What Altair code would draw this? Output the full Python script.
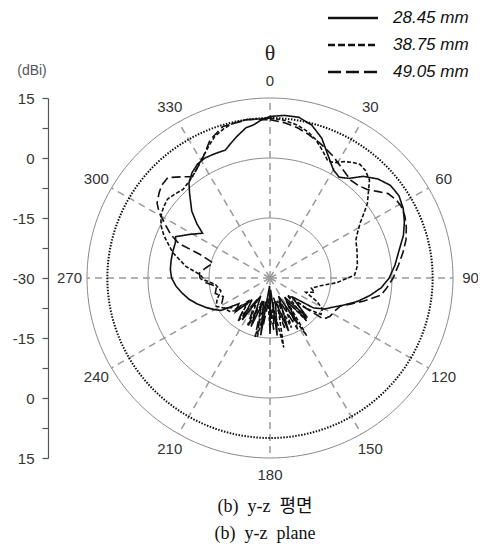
import altair as alt
import pandas as pd
import numpy as np

SERIES = ["28.45 mm", "38.75 mm", "49.05 mm"]

# 28.45 mm (solid)
A1 = [0, 5, 10, 15, 20, 25, 30, 34, 38, 42, 47, 52, 57, 62, 67, 72, 78, 84, 90, 95,
      100, 105, 110, 115, 120, 125,
      131, 137, 143, 149, 155, 161, 167, 173, 177, 180, 183, 189, 195, 201, 207, 213, 219, 225, 230,
      236, 240, 245, 250, 255, 260, 265, 270, 275, 280, 285, 291, 294, 299, 304, 307, 311, 317, 320, 324,
      328, 332, 337, 341, 344, 347, 351, 354, 357, 360]
D1 = [10.4, 10.8, 10.8, 9.6, 7.2, 3.8, 1.2, 0.4, 1.6, 4.2, 6.3, 7.6, 7.8, 7.1, 5.9, 4.5, 2.4, 0.9, -0.7, -2.5,
      -5.0, -7.6, -10.4, -12.8, -14.5, -17.0,
      -23, -16.5, -24, -17, -25, -16, -24, -15.5, -27, -16, -28, -15.5, -24, -17, -25, -17.5, -23, -18, -20,
      -15.5, -14.2, -12.6, -11, -9.4, -8.1, -6.8, -5.8, -5.4, -5.3, -5.2, -5.1, -4.6, -7.5, -10.0, -7.5, -4.5, -1.0, 1.0, 2.6,
      3.6, 4.0, 3.9, 3.8, 5.0, 6.3, 8.0, 8.5, 9.6, 10.4]

# 38.75 mm (short dashes)
A2 = [0, 5, 10, 14, 18, 22, 26, 29, 32, 35, 38, 41, 45, 48, 52, 55, 58, 62, 66, 71,
      76, 82, 88, 94, 99, 104, 108, 112, 117, 121, 126, 130,
      135, 140, 144, 148, 152, 157, 163, 169, 174, 180, 186, 192, 198, 204, 210, 216, 222, 227,
      230, 236, 242, 248, 255, 263, 268, 273, 278, 285, 292, 296, 300, 304, 308, 312,
      316, 320, 325, 329, 333, 336, 339, 343, 346, 351, 360]
D2 = [10.0, 9.6, 8.8, 7.8, 6.4, 4.4, 2.5, 3.0, 4.3, 5.3, 6.0, 5.7, 4.6, 2.6, 0.4, -1.8, -3.8, -5.6, -6.9, -7.4,
      -7.9, -8.3, -9.2, -13.5, -17.5, -19.5, -18.5, -20.5, -17, -15, -14.5, -18,
      -24, -16, -23, -13, -22, -16.5, -24, -12.3, -23, -17, -25, -15, -23, -17, -24, -16.5, -22, -18,
      -17, -16.5, -15, -16, -17.5, -16.5, -14, -12.7, -9.1, -5.2, -1.9, -0.2, 1.0, 1.6, 2.0, 1.4,
      0.8, 1.2, 2.2, 3.6, 5.1, 6.5, 7.9, 9.0, 9.6, 10.0, 10.0]

# 49.05 mm (long dashes)
A3 = [0, 5, 10, 14, 20, 27, 33, 39, 43, 47, 51, 54, 58, 61, 65, 69, 74, 79, 84, 90,
      95, 99, 104, 108, 112, 117, 123, 128,
      133, 139, 145, 152, 158, 164, 170, 176, 182, 188, 191, 194, 198, 205, 211, 217, 223, 228,
      232, 236, 242, 248, 254, 261, 266, 270, 274, 279, 285, 289, 291, 294, 297, 301,
      304, 308, 311, 315, 319, 323, 327, 331, 337, 343, 352, 360]
D3 = [9.6, 9.0, 8.2, 7.3, 5.9, 4.2, 2.6, 1.5, 1.7, 2.5, 4.3, 5.9, 6.7, 6.9, 6.6, 5.9, 4.8, 3.3, 1.8, 0.3,
      -1.2, -2.4, -6.2, -9.0, -11.3, -12.0, -12.4, -13.3,
      -21, -16, -23, -15.5, -24, -17, -25, -17, -25, -18, -24, -14.8, -24, -17, -23, -17.5, -22, -18,
      -18, -16.5, -16.6, -17.6, -16, -16.7, -14, -12.8, -12.6, -14, -15.5, -11.7, -6.0, -3.3, -1.3, 1.8,
      3.5, 4.6, 5.3, 5.5, 3.5, 1.7, 2.8, 4.2, 7.6, 9.6, 10.0, 9.6]

RING_DB = [-15, 0, 15]
REF_DB = 10
SPOKE_ANGLES = list(range(0, 360, 30))
ANGLE_LABELS = list(range(0, 360, 30))
AXIS_VALUES = [-45, -37.5, -30, -22.5, -15, -7.5, 0, 7.5, 15, 22.5, 30, 37.5, 45]

frames = []
for name, a, d in zip(SERIES, [A1, A2, A3], [D1, D2, D3]):
    f = pd.DataFrame({"theta": a, "db": d})
    f["series"] = name
    f["idx"] = np.arange(len(f))
    frames.append(f)
df = pd.concat(frames, ignore_index=True)

circ_angles = np.arange(0, 361, 2)
rings = pd.DataFrame([{"ring": r, "theta": t, "db": r} for r in RING_DB for t in circ_angles])
ref = pd.DataFrame({"theta": circ_angles, "db": REF_DB})
spokes = pd.DataFrame({"theta": SPOKE_ANGLES})
labels = pd.DataFrame({"theta": ANGLE_LABELS, "lab": [str(a) for a in ANGLE_LABELS]})

XS = alt.Scale(domain=[-45, 45], nice=False, zero=False)
YS = alt.Scale(domain=[-45, 45], nice=False, zero=False)
YAX = alt.Axis(values=AXIS_VALUES,
               labelExpr="datum.value % 15 == 0 ? abs(datum.value) - 30 : ''",
               offset=39, domainColor="#555", tickColor="#555", domainWidth=1.2, tickWidth=1.2,
               tickSize=6, labelPadding=8, labelFont="Liberation Sans", labelFontSize=15,
               labelColor="#333", grid=False, title=None)

polar = dict(px="(datum.db + 30) * sin(datum.theta * PI / 180)",
             py="(datum.db + 30) * cos(datum.theta * PI / 180)")


def xy():
    return dict(x=alt.X("px:Q", scale=XS, axis=None),
                y=alt.Y("py:Q", scale=YS, axis=YAX))


ring_layer = alt.Chart(rings).mark_line(color="#8a8a8a", strokeWidth=1).transform_calculate(**polar).encode(
    detail="ring:N", order="theta:Q", **xy())

spoke_layer = alt.Chart(spokes).mark_rule(color="#999", strokeWidth=1.5, strokeDash=[7, 5]).transform_calculate(
    px="0", py="0",
    px2="45 * sin(datum.theta * PI / 180)",
    py2="45 * cos(datum.theta * PI / 180)").encode(
    x2="px2:Q", y2="py2:Q", **xy())

ref_layer = alt.Chart(ref).mark_line(color="#111", strokeWidth=2, strokeDash=[1.5, 1.5]).transform_calculate(
    **polar).encode(order="theta:Q", **xy())

series_layer = alt.Chart(df).mark_line(color="#111", strokeWidth=1.6).transform_calculate(**polar).encode(
    detail="series:N", order="idx:Q",
    strokeDash=alt.StrokeDash("series:N", scale=alt.Scale(domain=SERIES, range=[[1, 0], [4, 2], [9, 4]]),
                              legend=None),
    **xy())

label_layer = alt.Chart(labels).mark_text(font="Liberation Sans", fontSize=15, color="#333",
                                          align="center", baseline="middle").transform_calculate(
    px="49.3 * sin(datum.theta * PI / 180)",
    py="49.3 * cos(datum.theta * PI / 180)").encode(text="lab:N", **xy())

extras = []
LEG_DASH = [[1, 0], [7, 3], [13, 5]]
for i, name in enumerate(SERIES):
    yy = -80 + 27 * i
    extras.append(alt.Chart(pd.DataFrame({"a": [0]})).mark_rule(color="#111", strokeWidth=2.6,
                                                                 strokeDash=LEG_DASH[i]).encode(
        x=alt.value(241), x2=alt.value(291), y=alt.value(yy)))
    extras.append(alt.Chart(pd.DataFrame({"a": [0]})).mark_text(
        text=name, font="Liberation Sans", fontSize=17, fontStyle="italic", color="#111",
        align="left", baseline="middle").encode(x=alt.value(306), y=alt.value(yy)))


def txt(t, x, y, **kw):
    return alt.Chart(pd.DataFrame({"a": [0]})).mark_text(text=t, baseline="middle", **kw).encode(
        x=alt.value(x), y=alt.value(y))


extras.append(txt("θ", 183, -45, font="Liberation Serif", fontSize=22, color="#222", align="center"))
extras.append(txt("(dBi)", -55, -27, font="Liberation Sans", fontSize=14, color="#555", align="center"))
extras.append(txt("(b)\u00a0 y-z\u00a0 평면", 178, 409, font="Liberation Serif, Noto Sans CJK KR",
                  fontSize=18, color="#111", align="center"))
extras.append(txt("(b)\u00a0 y-z\u00a0 plane", 178, 436, font="Liberation Serif",
                  fontSize=18, color="#111", align="center"))

chart = alt.layer(ring_layer, spoke_layer, ref_layer, series_layer, label_layer, *extras).properties(
    width=366, height=360,
    padding={"left": 79, "top": 90, "right": 25, "bottom": 85},
    autosize=alt.AutoSizeParams(type="none"),
).configure_view(stroke=None)

chart.save("out.html", embed_options={"renderer": "svg", "actions": False})
